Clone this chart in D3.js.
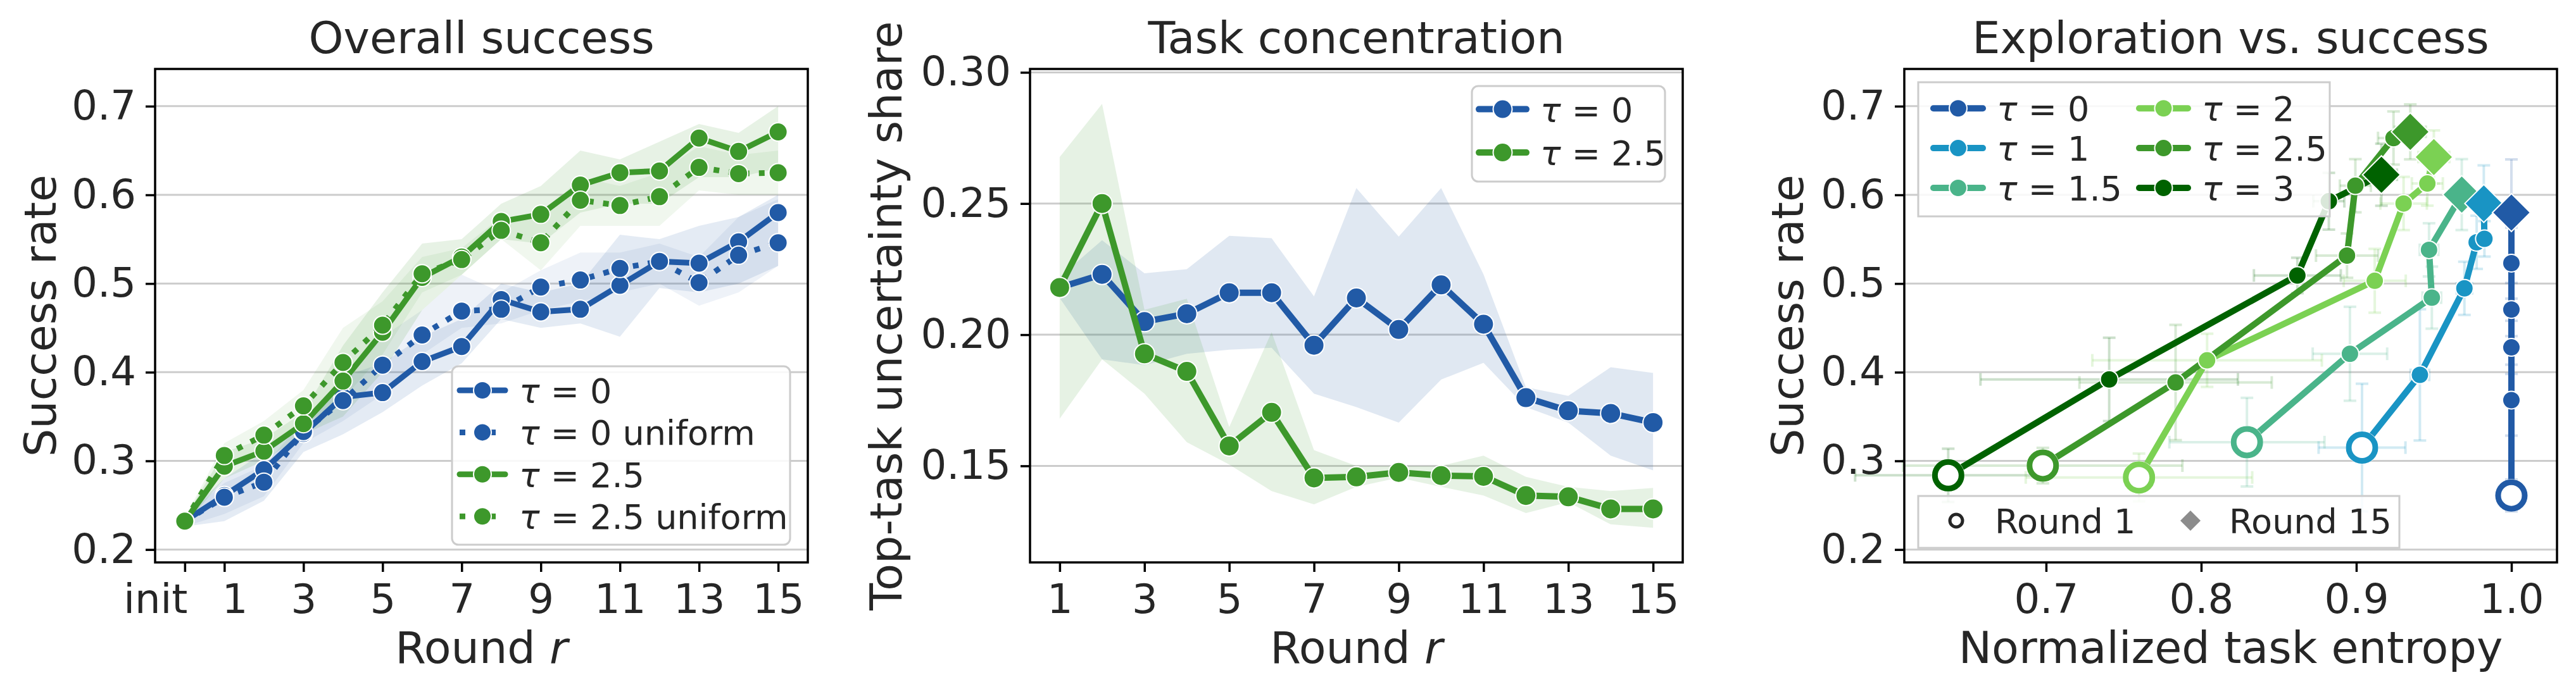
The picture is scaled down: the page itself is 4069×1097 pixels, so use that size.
<!DOCTYPE html>
<html>
<head>
<meta charset="utf-8">
<script src="https://cdn.jsdelivr.net/npm/d3@7"></script>
<style>
  body { margin: 0; background: #fff; }
  svg text { font-family: "DejaVu Sans", sans-serif; fill: #262626; }
</style>
</head>
<body>
<div class="chart"></div>
<script>
// ---------- panel 1: overall success ----------
var rounds = [0, 1, 2, 3, 4, 5, 6, 7, 8, 9, 10, 11, 12, 13, 14, 15];
var roundTicks = [0, 1, 3, 5, 7, 9, 11, 13, 15];
var roundTickLabels = ["init", "1", "3", "5", "7", "9", "11", "13", "15"];
var successTicks = [0.2, 0.3, 0.4, 0.5, 0.6, 0.7];

var succT0 = [0.232, 0.261, 0.290, 0.331, 0.372, 0.377, 0.412, 0.429, 0.482, 0.468, 0.471, 0.498, 0.525, 0.523, 0.547, 0.580];
var succT0Lo = [0.226, 0.232, 0.255, 0.310, 0.330, 0.355, 0.385, 0.410, 0.460, 0.450, 0.455, 0.440, 0.495, 0.490, 0.500, 0.520];
var succT0Hi = [0.238, 0.280, 0.310, 0.345, 0.395, 0.410, 0.440, 0.460, 0.500, 0.490, 0.500, 0.555, 0.550, 0.565, 0.575, 0.600];

var succT0U = [0.232, 0.259, 0.276, 0.333, 0.368, 0.408, 0.442, 0.469, 0.471, 0.496, 0.504, 0.517, 0.525, 0.501, 0.532, 0.546];
var succT0ULo = [0.226, 0.240, 0.260, 0.320, 0.345, 0.375, 0.420, 0.450, 0.455, 0.470, 0.480, 0.490, 0.500, 0.475, 0.490, 0.520];
var succT0UHi = [0.238, 0.275, 0.295, 0.345, 0.390, 0.440, 0.470, 0.510, 0.490, 0.515, 0.535, 0.535, 0.545, 0.530, 0.575, 0.595];

var succT25 = [0.232, 0.294, 0.311, 0.342, 0.390, 0.445, 0.507, 0.530, 0.570, 0.578, 0.611, 0.625, 0.627, 0.664, 0.649, 0.671];
var succT25Lo = [0.228, 0.280, 0.300, 0.330, 0.350, 0.400, 0.470, 0.510, 0.550, 0.545, 0.580, 0.590, 0.590, 0.620, 0.620, 0.630];
var succT25Hi = [0.236, 0.310, 0.325, 0.355, 0.430, 0.490, 0.545, 0.550, 0.590, 0.610, 0.650, 0.640, 0.660, 0.680, 0.670, 0.700];

var succT25U = [0.232, 0.306, 0.329, 0.362, 0.411, 0.453, 0.511, 0.527, 0.560, 0.546, 0.594, 0.588, 0.598, 0.631, 0.624, 0.625];
var succT25ULo = [0.228, 0.290, 0.310, 0.340, 0.370, 0.420, 0.490, 0.510, 0.550, 0.515, 0.565, 0.565, 0.565, 0.605, 0.600, 0.600];
var succT25UHi = [0.236, 0.320, 0.345, 0.380, 0.450, 0.480, 0.530, 0.540, 0.575, 0.575, 0.620, 0.610, 0.625, 0.655, 0.645, 0.650];

// ---------- panel 2: task concentration ----------
var rounds2 = [1, 2, 3, 4, 5, 6, 7, 8, 9, 10, 11, 12, 13, 14, 15];
var roundTicks2 = [1, 3, 5, 7, 9, 11, 13, 15];
var shareTicks = [0.15, 0.20, 0.25, 0.30];

var shareT0 = [0.218, 0.223, 0.205, 0.208, 0.216, 0.216, 0.196, 0.214, 0.202, 0.219, 0.204, 0.176, 0.171, 0.170, 0.1665];
var shareT0Lo = [0.214, 0.1906, 0.1884, 0.1927, 0.1943, 0.195, 0.1775, 0.1724, 0.1665, 0.1829, 0.1893, 0.1724, 0.1665, 0.1539, 0.1483];
var shareT0Hi = [0.222, 0.236, 0.2234, 0.225, 0.2377, 0.2368, 0.2146, 0.2559, 0.2374, 0.2559, 0.223, 0.180, 0.1767, 0.1876, 0.1854];

var shareT25 = [0.218, 0.250, 0.1927, 0.186, 0.1576, 0.1704, 0.1454, 0.1458, 0.1475, 0.1463, 0.146, 0.1387, 0.1382, 0.1336, 0.1336];
var shareT25Lo = [0.168, 0.1906, 0.1775, 0.159, 0.1505, 0.1404, 0.1353, 0.142, 0.1455, 0.142, 0.1387, 0.132, 0.1362, 0.1277, 0.1264];
var shareT25Hi = [0.2677, 0.288, 0.2095, 0.2137, 0.1648, 0.201, 0.156, 0.150, 0.150, 0.150, 0.1539, 0.1458, 0.142, 0.1404, 0.1416];

// ---------- panel 3: exploration vs. success ----------
var tauNames = ["0", "1", "1.5", "2", "2.5", "3"];
var entropyTicks = [0.7, 0.8, 0.9, 1.0];

var entT0 = [1.0, 1.0, 1.0, 1.0, 1.0, 1.0];
var sucT0 = [0.261, 0.3685, 0.428, 0.4707, 0.523, 0.580];
var entErrT0 = [0.002, 0.002, 0.002, 0.002, 0.002, 0.002];
var sucErrT0 = [0.018, 0.040, 0.030, 0.030, 0.040, 0.060];

var entT1 = [0.9037, 0.941, 0.9697, 0.9776, 0.9826, 0.9822];
var sucT1 = [0.315, 0.397, 0.4946, 0.5465, 0.5504, 0.5903];
var entErrT1 = [0.028, 0.006, 0.005, 0.004, 0.003, 0.003];
var sucErrT1 = [0.072, 0.074, 0.030, 0.030, 0.020, 0.043];

var entT15 = [0.8295, 0.8959, 0.9487, 0.9469, 0.968];
var sucT15 = [0.3211, 0.4208, 0.4841, 0.538, 0.6003];
var entErrT15 = [0.050, 0.024, 0.006, 0.006, 0.005];
var sucErrT15 = [0.050, 0.053, 0.035, 0.030, 0.040];

var entT2 = [0.7599, 0.8038, 0.9119, 0.9305, 0.9458, 0.950];
var sucT2 = [0.2813, 0.4134, 0.5031, 0.5903, 0.6128, 0.6427];
var entErrT2 = [0.073, 0.074, 0.020, 0.015, 0.010, 0.010];
var sucErrT2 = [0.027, 0.030, 0.036, 0.030, 0.025, 0.030];

var entT25 = [0.6979, 0.7835, 0.894, 0.8994, 0.924, 0.9348];
var sucT25 = [0.2947, 0.3884, 0.5315, 0.6103, 0.6641, 0.6711];
var entErrT25 = [0.090, 0.062, 0.020, 0.010, 0.010, 0.010];
var sucErrT25 = [0.020, 0.065, 0.025, 0.030, 0.030, 0.031];

var entT3 = [0.6369, 0.7407, 0.862, 0.8823, 0.9162];
var sucT3 = [0.2837, 0.3919, 0.5091, 0.5928, 0.6227];
var entErrT3 = [0.060, 0.083, 0.028, 0.010, 0.010];
var sucErrT3 = [0.030, 0.047, 0.020, 0.032, 0.035];

// ---------- layout ----------
var W = 4069, H = 1097;
var PW = 1031, PH = 780, PT = 109;
var lefts = [245, 1627, 3008];
var blue = "#215aa6", green = "#3d982b";
var tauColors = ["#215aa6", "#1994c4", "#4ab48a", "#7bd153", "#3d982b", "#006200"];

var svg = d3.select('.chart').append('svg')
  .attr('width', W)
  .attr('height', H);
svg.append('rect').attr('width', W).attr('height', H).attr('fill', '#fff');

function zip(xs, ys) {
  return xs.map(function (d, i) { return { x: d, y: ys[i] }; });
}

function grid(g, y, ticks) {
  g.selectAll('.grid').data(ticks).enter().append('line')
    .attr('class', 'grid')
    .attr('x1', 0).attr('x2', PW)
    .attr('y1', function (d) { return y(d); })
    .attr('y2', function (d) { return y(d); })
    .attr('stroke', '#cccccc')
    .attr('stroke-width', 3);
}

function axes(g, x, y, xt, xf, yt, yf) {
  var xa = g.append('g')
    .attr('transform', 'translate(0,' + PH + ')')
    .call(d3.axisBottom(x).tickValues(xt).tickFormat(xf).tickSize(15).tickPadding(20));
  var ya = g.append('g')
    .call(d3.axisLeft(y).tickValues(yt).tickFormat(yf).tickSize(15).tickPadding(15));
  [xa, ya].forEach(function (a) {
    a.select('.domain').remove();
    a.selectAll('line').attr('stroke', '#000').attr('stroke-width', 3.5);
    a.selectAll('text')
      .attr('font-size', 64)
      .attr('fill', '#262626')
      .attr('font-family', '"DejaVu Sans", sans-serif');
  });
  g.append('rect')
    .attr('width', PW).attr('height', PH)
    .attr('fill', 'none')
    .attr('stroke', '#000')
    .attr('stroke-width', 3.5);
  return xa;
}

function titles(g, title, xlabel, ylabel, ylabelX) {
  g.append('text')
    .attr('x', PW / 2).attr('y', 84 - PT)
    .attr('text-anchor', 'middle')
    .attr('font-size', 70)
    .text(title);
  var xl = g.append('text')
    .attr('x', PW / 2).attr('y', 1048 - PT)
    .attr('text-anchor', 'middle')
    .attr('font-size', 70);
  xlabel(xl);
  g.append('text')
    .attr('transform', 'translate(' + ylabelX + ',' + (PH / 2) + ')rotate(-90)')
    .attr('text-anchor', 'middle')
    .attr('font-size', 70)
    .text(ylabel);
}

function roundLabel(t) {
  t.append('tspan').text('Round ');
  t.append('tspan').attr('font-style', 'italic').text('r');
}

function tauText(t, name) {
  t.append('tspan').attr('font-style', 'italic').text('\u03c4');
  t.append('tspan').text(' = ' + name);
}

function series(g, pts, x, y, color, lw, r, dotted) {
  g.append('path')
    .datum(pts)
    .attr('d', d3.line().x(function (d) { return x(d.x); }).y(function (d) { return y(d.y); }))
    .attr('fill', 'none')
    .attr('stroke', color)
    .attr('stroke-width', lw)
    .attr('stroke-linejoin', 'round')
    .attr('stroke-dasharray', dotted ? '9,15' : null);
  g.selectAll(null).data(pts).enter().append('circle')
    .attr('cx', function (d) { return x(d.x); })
    .attr('cy', function (d) { return y(d.y); })
    .attr('r', r)
    .attr('fill', color)
    .attr('stroke', '#fff')
    .attr('stroke-width', 2);
}

function band(g, xs, lo, hi, x, y, color, op) {
  var pts = xs.map(function (d, i) { return { x: d, lo: lo[i], hi: hi[i] }; });
  g.append('path')
    .datum(pts)
    .attr('d', d3.area()
      .x(function (d) { return x(d.x); })
      .y0(function (d) { return y(d.lo); })
      .y1(function (d) { return y(d.hi); }))
    .attr('fill', color)
    .attr('fill-opacity', op);
}

function legendBox(g, x0, y0, x1, y1, rounded) {
  g.append('rect')
    .attr('x', x0).attr('y', y0)
    .attr('width', x1 - x0).attr('height', y1 - y0)
    .attr('rx', rounded ? 10 : 0)
    .attr('fill', '#fff').attr('fill-opacity', 0.85)
    .attr('stroke', '#cccccc').attr('stroke-width', 3);
}

function legendEntry(g, hx0, hx1, cy, color, lw, r, dotted, label) {
  g.append('line')
    .attr('x1', hx0).attr('x2', hx1).attr('y1', cy).attr('y2', cy)
    .attr('stroke', color).attr('stroke-width', lw)
    .attr('stroke-linecap', dotted ? 'butt' : 'round')
    .attr('stroke-dasharray', dotted ? '9,15' : null);
  g.append('circle')
    .attr('cx', (hx0 + hx1) / 2).attr('cy', cy).attr('r', r)
    .attr('fill', color).attr('stroke', '#fff').attr('stroke-width', 2);
  var t = g.append('text')
    .attr('x', hx1 + 22).attr('y', cy + 20)
    .attr('font-size', 54);
  label(t);
}

// ================= panel 1 =================
var g1 = svg.append('g').attr('transform', 'translate(' + lefts[0] + ',' + PT + ')');
var x1 = d3.scaleLinear().domain([-0.75, 15.75]).range([0, PW]);
var y1 = d3.scaleLinear().domain([0.1855, 0.742]).range([PH, 0]);

grid(g1, y1, successTicks);
band(g1, rounds, succT0Lo, succT0Hi, x1, y1, blue, 0.12);
band(g1, rounds, succT0ULo, succT0UHi, x1, y1, blue, 0.08);
band(g1, rounds, succT25Lo, succT25Hi, x1, y1, green, 0.12);
band(g1, rounds, succT25ULo, succT25UHi, x1, y1, green, 0.08);
series(g1, zip(rounds, succT0), x1, y1, blue, 9, 14.5, false);
series(g1, zip(rounds, succT0U), x1, y1, blue, 9, 14.5, true);
series(g1, zip(rounds, succT25), x1, y1, green, 9, 14.5, false);
series(g1, zip(rounds, succT25U), x1, y1, green, 9, 14.5, true);
var xa1 = axes(g1, x1, y1, roundTicks, function (d, i) { return roundTickLabels[i]; },
  successTicks, d3.format('.1f'));
// "init" sits left of its tick, "1" right of its tick
xa1.selectAll('text').attr('text-anchor', function (d) {
  return d === 0 ? 'end' : (d === 1 ? 'start' : 'middle');
}).attr('dx', function (d) { return d === 0 ? 4 : (d === 1 ? -4 : 0); });
titles(g1, 'Overall success', roundLabel, 'Success rate', 88 - lefts[0]);

var lg1 = svg.append('g');
legendBox(lg1, 714, 579, 1248, 861, true);
legendEntry(lg1, 726, 798, 617, blue, 9, 14, false, function (t) { tauText(t, '0'); });
legendEntry(lg1, 726, 798, 683.4, blue, 9, 14, true, function (t) { tauText(t, '0 uniform'); });
legendEntry(lg1, 726, 798, 749.8, green, 9, 14, false, function (t) { tauText(t, '2.5'); });
legendEntry(lg1, 726, 798, 816.2, green, 9, 14, true, function (t) { tauText(t, '2.5 uniform'); });

// ================= panel 2 =================
var g2 = svg.append('g').attr('transform', 'translate(' + lefts[1] + ',' + PT + ')');
var x2 = d3.scaleLinear().domain([0.3, 15.7]).range([0, PW]);
var y2 = d3.scaleLinear().domain([0.1132, 0.3013]).range([PH, 0]);

grid(g2, y2, shareTicks);
band(g2, rounds2, shareT0Lo, shareT0Hi, x2, y2, blue, 0.14);
band(g2, rounds2, shareT25Lo, shareT25Hi, x2, y2, green, 0.13);
series(g2, zip(rounds2, shareT0), x2, y2, blue, 10, 16, false);
series(g2, zip(rounds2, shareT25), x2, y2, green, 10, 16, false);
axes(g2, x2, y2, roundTicks2, d3.format('d'), shareTicks, d3.format('.2f'));
titles(g2, 'Task concentration', roundLabel, 'Top-task uncertainty share', 1424 - lefts[1]);

var lg2 = svg.append('g');
legendBox(lg2, 2325, 136, 2630, 287, true);
legendEntry(lg2, 2336, 2411, 172.6, blue, 10, 15, false, function (t) { tauText(t, '0'); });
legendEntry(lg2, 2336, 2411, 241.1, green, 10, 15, false, function (t) { tauText(t, '2.5'); });

// ================= panel 3 =================
var g3 = svg.append('g').attr('transform', 'translate(' + lefts[2] + ',' + PT + ')');
var x3 = d3.scaleLinear().domain([0.6086, 1.0294]).range([0, PW]);
var y3 = d3.scaleLinear().domain([0.1855, 0.742]).range([PH, 0]);

grid(g3, y3, successTicks);

var tauSeries = [
  { ent: entT0, suc: sucT0, ex: entErrT0, ey: sucErrT0 },
  { ent: entT1, suc: sucT1, ex: entErrT1, ey: sucErrT1 },
  { ent: entT15, suc: sucT15, ex: entErrT15, ey: sucErrT15 },
  { ent: entT2, suc: sucT2, ex: entErrT2, ey: sucErrT2 },
  { ent: entT25, suc: sucT25, ex: entErrT25, ey: sucErrT25 },
  { ent: entT3, suc: sucT3, ex: entErrT3, ey: sucErrT3 }
];

// error bars
tauSeries.forEach(function (s, k) {
  var eb = g3.append('g')
    .attr('stroke', tauColors[k])
    .attr('stroke-opacity', 0.2)
    .attr('stroke-width', 4)
    .attr('fill', 'none');
  s.ent.forEach(function (e, i) {
    var cx = x3(e), cy = y3(s.suc[i]);
    var ya = y3(s.suc[i] - s.ey[i]), yb = y3(s.suc[i] + s.ey[i]);
    var xa = x3(e - s.ex[i]), xb = x3(e + s.ex[i]);
    eb.append('line').attr('x1', cx).attr('x2', cx).attr('y1', ya).attr('y2', yb);
    eb.append('line').attr('x1', cx - 10).attr('x2', cx + 10).attr('y1', ya).attr('y2', ya);
    eb.append('line').attr('x1', cx - 10).attr('x2', cx + 10).attr('y1', yb).attr('y2', yb);
    eb.append('line').attr('x1', xa).attr('x2', xb).attr('y1', cy).attr('y2', cy);
    eb.append('line').attr('x1', xa).attr('x2', xa).attr('y1', cy - 10).attr('y2', cy + 10);
    eb.append('line').attr('x1', xb).attr('x2', xb).attr('y1', cy - 10).attr('y2', cy + 10);
  });
});

// lines
tauSeries.forEach(function (s, k) {
  g3.append('path')
    .datum(zip(s.ent, s.suc))
    .attr('d', d3.line().x(function (d) { return x3(d.x); }).y(function (d) { return y3(d.y); }))
    .attr('fill', 'none')
    .attr('stroke', tauColors[k])
    .attr('stroke-width', 10)
    .attr('stroke-linejoin', 'round');
});

// middle markers, first-round rings, last-round diamonds
tauSeries.forEach(function (s, k) {
  var pts = zip(s.ent, s.suc);
  var mid = pts.slice(1, pts.length - 1);
  g3.selectAll(null).data(mid).enter().append('circle')
    .attr('cx', function (d) { return x3(d.x); })
    .attr('cy', function (d) { return y3(d.y); })
    .attr('r', 14)
    .attr('fill', tauColors[k])
    .attr('stroke', '#fff')
    .attr('stroke-width', 2);
  var first = pts[0];
  g3.append('circle')
    .attr('cx', x3(first.x)).attr('cy', y3(first.y))
    .attr('r', 26).attr('fill', '#fff');
  g3.append('circle')
    .attr('cx', x3(first.x)).attr('cy', y3(first.y))
    .attr('r', 21)
    .attr('fill', '#fff')
    .attr('stroke', tauColors[k])
    .attr('stroke-width', 9);
});
tauSeries.slice().reverse().forEach(function (s, kk) {
  var k = tauSeries.length - 1 - kk;
  var last = { x: s.ent[s.ent.length - 1], y: s.suc[s.suc.length - 1] };
  var cx = x3(last.x), cy = y3(last.y), d = 30;
  g3.append('path')
    .attr('d', 'M' + cx + ',' + (cy - d) + 'L' + (cx + d) + ',' + cy + 'L' + cx + ',' + (cy + d) + 'L' + (cx - d) + ',' + cy + 'Z')
    .attr('fill', tauColors[k])
    .attr('stroke', '#fff')
    .attr('stroke-width', 2);
});

axes(g3, x3, y3, entropyTicks, d3.format('.1f'), successTicks, d3.format('.1f'));
titles(g3, 'Exploration vs. success', function (t) { t.text('Normalized task entropy'); },
  'Success rate', 2848 - lefts[2]);

// tau legend
var lg3 = svg.append('g');
legendBox(lg3, 3030, 130, 3680, 342, false);
var legCols = [[3054, 3132], [3379, 3456]];
var legRows = [171.2, 234.1, 297];
tauNames.forEach(function (name, k) {
  var c = legCols[Math.floor(k / 3)];
  legendEntry(lg3, c[0], c[1], legRows[k % 3], tauColors[k], 10, 14, false,
    function (t) { tauText(t, name); });
});

// round legend
var lg4 = svg.append('g');
legendBox(lg4, 3030, 784, 3790, 866, false);
lg4.append('circle')
  .attr('cx', 3090).attr('cy', 823).attr('r', 10)
  .attr('fill', '#fff').attr('stroke', '#262626').attr('stroke-width', 5);
lg4.append('text').attr('x', 3151).attr('y', 843).attr('font-size', 54).text('Round 1');
lg4.append('path')
  .attr('d', 'M3460,807L3476,823L3460,839L3444,823Z')
  .attr('fill', '#8c8c8c');
lg4.append('text').attr('x', 3521).attr('y', 843).attr('font-size', 54).text('Round 15');
</script>
</body>
</html>
